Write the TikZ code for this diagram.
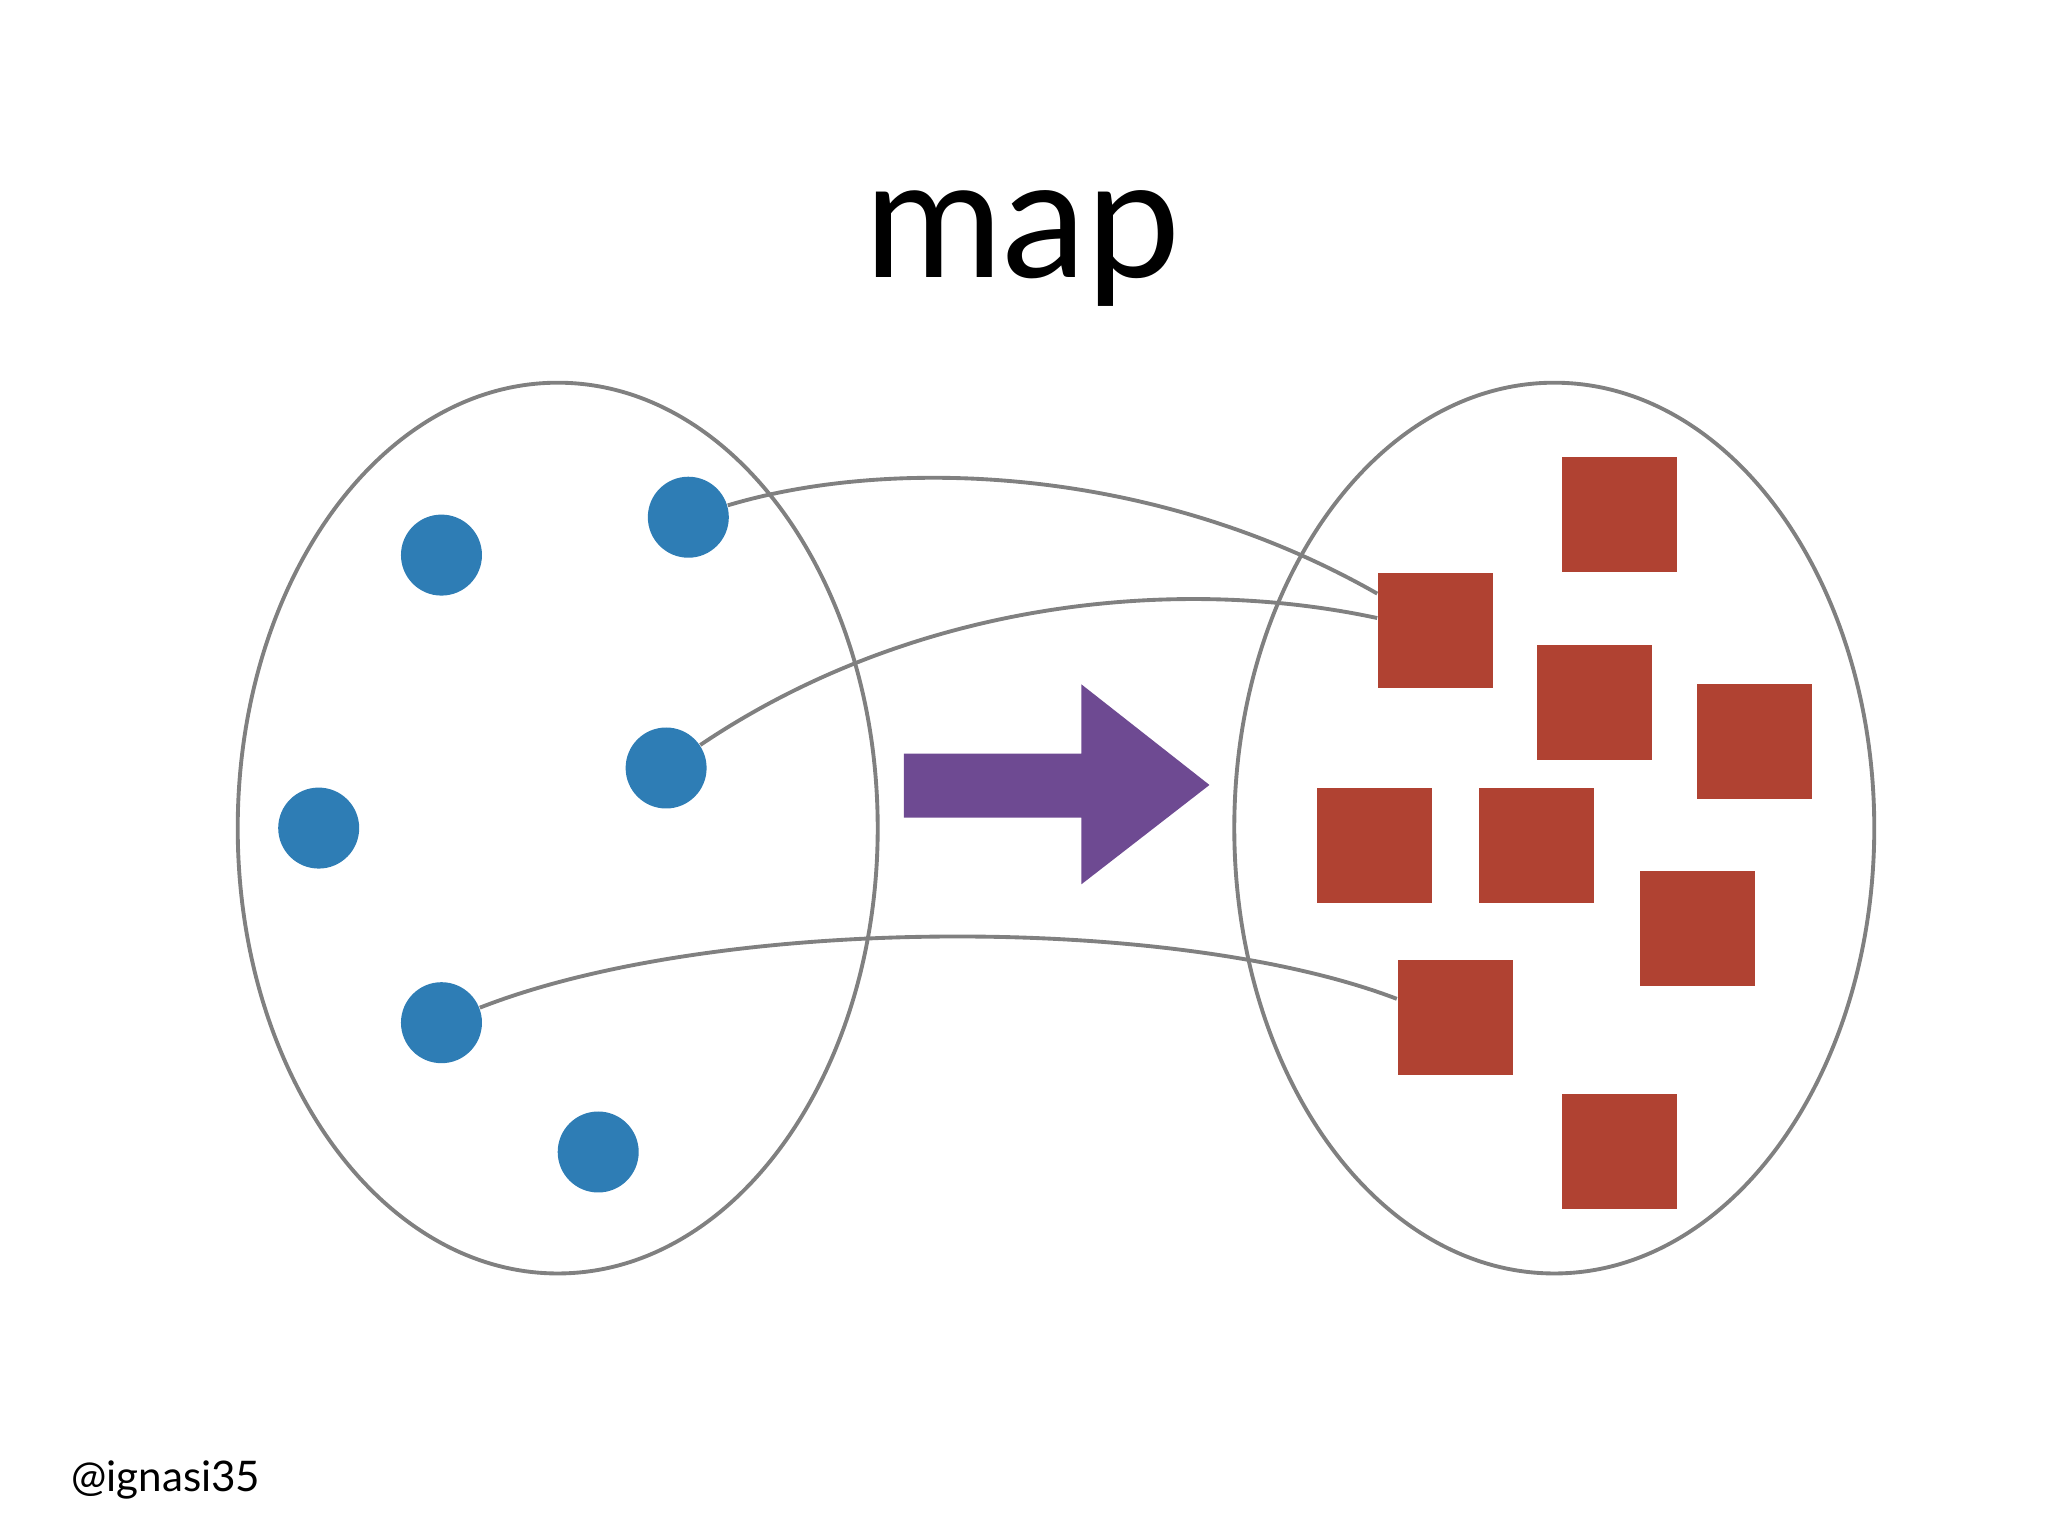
\documentclass[tikz,border=0pt]{standalone}
\usepackage{fontspec}
\setmainfont{Lato}
\usetikzlibrary{calc}
\definecolor{dotblue}{HTML}{2E7DB5}
\definecolor{boxred}{HTML}{B04232}
\definecolor{arrowpurple}{HTML}{6E4A92}
\definecolor{setgray}{HTML}{808080}
\tikzset{
  dot/.style={circle, fill=dotblue, inner sep=0pt, minimum size=0.81cm},
  elem/.style={rectangle, fill=boxred, inner sep=0pt, minimum size=1.15cm},
  setline/.style={draw=setgray, line width=1.1pt},
  link/.style={draw=setgray, line width=1.1pt}
}
\begin{document}
\begin{tikzpicture}[x=0.013061cm, y=-0.013061cm]
        \useasboundingbox (0,0) rectangle (1568,1176);

        % Title
        \node (title) at (783,190) {\fontsize{48}{50}\selectfont map};

        % Domain and codomain
        \draw[setline] (427,634) ellipse (245 and 341);
        \draw[setline] (1190,634) ellipse (245 and 341);

        % Blue elements
        \node[dot] (b1) at (338,425) {};
        \node[dot] (b2) at (527,396) {};
        \node[dot] (b3) at (510,588) {};
        \node[dot] (b4) at (244,634) {};
        \node[dot] (b5) at (338,783) {};
        \node[dot] (b6) at (458,882) {};

        % Red elements
        \node[elem] (s1) at (1240,394) {};
        \node[elem] (s2) at (1099,483) {};
        \node[elem] (s3) at (1221,538) {};
        \node[elem] (s4) at (1343,568) {};
        \node[elem] (s5) at (1052,647) {};
        \node[elem] (s6) at (1176,647) {};
        \node[elem] (s7) at (1300,711) {};
        \node[elem] (s8) at (1114,779) {};
        \node[elem] (s9) at (1240,882) {};

        % Mapping lines
        \draw[link] (b2) .. controls (680,350) and (880,355) .. ($(s2.north west)!0.18!(s2.south west)$);
        \draw[link] (b3) .. controls (700,460) and (900,440) .. ($(s2.north west)!0.39!(s2.south west)$);
        \draw[link] (b5) .. controls (550,700) and (900,700) .. ($(s8.north west)!0.34!(s8.south west)$);

        % Big arrow
        \fill[arrowpurple] (692,577) -- (828,577) -- (828,524) -- (926,601)
          -- (828,677) -- (828,626) -- (692,626) -- cycle;

        % Footer
        \node[anchor=west] (handle) at (45,1133) {\fontsize{12}{14}\selectfont @ignasi35};
\end{tikzpicture}
\end{document}
